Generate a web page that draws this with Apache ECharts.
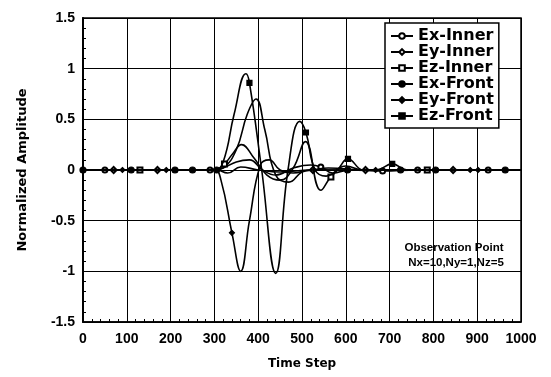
<!DOCTYPE html>
<html>
<head>
<meta charset="utf-8">
<script src="https://cdn.jsdelivr.net/npm/echarts@6/dist/echarts.min.js"></script>
<style>html,body{margin:0;padding:0;background:#fff;}#c{width:551px;height:377px;}</style>
</head>
<body>
<div id="c"></div>
<script>
// ---- data ----
const xTicks = [0, 100, 200, 300, 400, 500, 600, 700, 800, 900, 1000];
const yTicks = [-1.5, -1, -0.5, 0, 0.5, 1, 1.5];

const seriesNames = ['Ex-Inner', 'Ey-Inner', 'Ez-Inner', 'Ex-Front', 'Ey-Front', 'Ez-Front'];

const exInnerT = [0, 50, 150, 290, 320, 350, 380, 410, 440, 480, 520, 543, 570, 610, 684, 764, 925, 1000];
const exInnerY = [0, 0, 0, 0, 0.02, 0.08, 0.1, 0.0, -0.05, 0.02, 0.05, 0.03, -0.03, 0.0, -0.01, 0, 0, 0];
const exInnerMarks = [50, 290, 543, 684, 764, 925];

const eyInnerT = [0, 70, 170, 300, 320, 350, 375, 395, 415, 440, 470, 500, 525, 560, 645, 845, 1000];
const eyInnerY = [0, 0, 0, 0, 0.02, 0.2, 0.55, 0.7, 0.4, -0.05, -0.12, -0.02, 0.0, 0.02, 0, 0, 0];
const eyInnerMarks = [70, 170, 525, 645, 845];

const ezInnerT = [0, 130, 250, 300, 323, 340, 362, 390, 420, 450, 480, 508, 543, 566, 600, 640, 700, 786, 900, 1000];
const ezInnerY = [0, 0, 0, 0, 0.06, 0.15, 0.25, 0.12, -0.05, -0.1, 0.02, 0.28, -0.2, -0.07, 0.04, 0, 0, 0, 0, 0];
const ezInnerMarks = [130, 323, 566, 786];

const exFrontT = [0, 110, 210, 250, 305, 330, 360, 400, 450, 520, 604, 725, 805, 964, 1000];
const exFrontY = [0, 0, 0, 0, 0, -0.03, 0.03, 0, -0.02, 0, 0, 0, 0, 0, 0];
const exFrontMarks = [0, 110, 210, 250, 305, 604, 725, 805, 964];

const eyFrontT = [0, 90, 190, 300, 315, 340, 360, 380, 405, 425, 450, 480, 520, 600, 668, 884, 902, 1000];
const eyFrontY = [0, 0, 0, 0, -0.1, -0.62, -1.0, -0.5, 0.05, 0.1, 0, -0.03, 0, 0, 0, 0, 0, 0];
const eyFrontMarks = [90, 190, 340, 668, 884, 902];

const ezFrontT = [0, 150, 300, 320, 345, 372, 380, 408, 440, 468, 495, 509, 530, 555, 580, 605, 640, 670, 706, 740, 800, 1000];
const ezFrontY = [0, 0, 0, 0.08, 0.55, 0.95, 0.86, 0.0, -1.02, 0.0, 0.48, 0.37, 0.0, -0.06, 0.0, 0.11, 0.0, 0.0, 0.06, 0.0, 0, 0];
const ezFrontMarks = [380, 509, 605, 706];

// ---- build ----
function build(T, Y, marks) {
  return T.map((t, i) => marks.includes(t) ? [t, Y[i]] : { value: [t, Y[i]], symbol: 'none' });
}
const seriesData = [
  build(exInnerT, exInnerY, exInnerMarks),
  build(eyInnerT, eyInnerY, eyInnerMarks),
  build(ezInnerT, ezInnerY, ezInnerMarks),
  build(exFrontT, exFrontY, exFrontMarks),
  build(eyFrontT, eyFrontY, eyFrontMarks),
  build(ezFrontT, ezFrontY, ezFrontMarks)
];
const symbols = ['emptyCircle', 'emptyDiamond', 'emptyRect', 'circle', 'diamond', 'rect'];
const symSizes = [5, 6, 5, 6, 5, 5];

const chart = echarts.init(document.getElementById('c'), null, { renderer: 'canvas' });
const labelFont = { color: '#000', fontFamily: 'Liberation Sans', fontWeight: 'bold', fontSize: 14 };

chart.setOption({
  backgroundColor: '#fff',
  animation: false,
  grid: { left: 83, top: 18, width: 438, height: 304, show: true, borderColor: '#000', borderWidth: 1.5, backgroundColor: 'transparent' },
  xAxis: {
    type: 'value', min: 0, max: 1000, interval: 100,
    axisLine: { show: true, onZero: false, lineStyle: { color: '#000', width: 1.5 } },
    axisTick: { show: true, inside: true, length: 6, lineStyle: { color: '#000', width: 1 } },
    minorTick: { show: true, splitNumber: 5, length: 3, lineStyle: { color: '#000', width: 1 } },
    splitLine: { show: true, lineStyle: { color: '#000', width: 1 } },
    axisLabel: Object.assign({ margin: 10, formatter: v => xTicks.includes(v) ? String(v) : '' }, labelFont),
    name: 'Time Step', nameLocation: 'middle', nameGap: 36,
    nameTextStyle: { color: '#000', fontFamily: 'DejaVu Sans', fontWeight: 'bold', fontSize: 12 }
  },
  yAxis: {
    type: 'value', min: -1.5, max: 1.5, interval: 0.5,
    axisLine: { show: true, onZero: false, lineStyle: { color: '#000', width: 2 } },
    axisTick: { show: true, inside: true, length: 6, lineStyle: { color: '#000', width: 1 } },
    minorTick: { show: true, splitNumber: 5, length: 3, lineStyle: { color: '#000', width: 1 } },
    splitLine: { show: true, lineStyle: { color: '#000', width: 1 } },
    axisLabel: Object.assign({ margin: 8, formatter: v => yTicks.includes(v) ? String(v) : '' }, labelFont),
    name: 'Normalized Amplitude', nameLocation: 'middle', nameGap: 54, nameRotate: 90,
    nameTextStyle: { color: '#000', fontFamily: 'DejaVu Sans', fontWeight: 'bold', fontSize: 13 }
  },
  legend: {
    orient: 'vertical', left: 385, top: 23,
    backgroundColor: '#fff', borderColor: '#000', borderWidth: 1.5, borderRadius: 0,
    padding: [5, 5, 4, 5], itemGap: 0, itemWidth: 22, itemHeight: 7,
    textStyle: { color: '#000', fontFamily: 'DejaVu Sans', fontWeight: 'bold', fontSize: 16, lineHeight: 15.5 },
    data: seriesNames
  },
  graphic: [
    { type: 'text', x: 454, y: 242, z: 100, style: { text: 'Observation Point', fill: '#000', font: 'bold 11.5px "Liberation Sans"', align: 'center', textAlign: 'center' } },
    { type: 'text', x: 456, y: 257, z: 100, style: { text: 'Nx=10,Ny=1,Nz=5', fill: '#000', font: 'bold 11.5px "Liberation Sans"', align: 'center', textAlign: 'center' } }
  ],
  series: seriesNames.map((n, i) => ({
    name: n, type: 'line', data: seriesData[i], smooth: 0.45,
    symbol: symbols[i], symbolSize: symSizes[i], showAllSymbol: true,
    lineStyle: { color: '#000', width: 1.6 },
    itemStyle: { color: '#000', borderColor: '#000', borderWidth: 1.2 },
    z: 3 + i
  }))
});
</script>
</body>
</html>
